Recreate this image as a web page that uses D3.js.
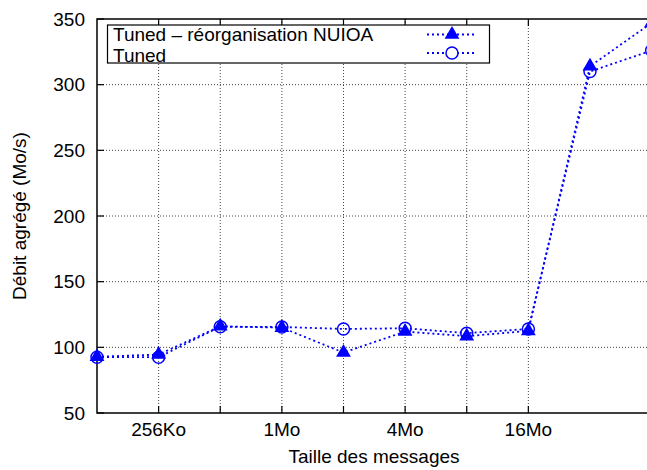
<!DOCTYPE html>
<html><head><meta charset="utf-8">
<script src="https://cdn.jsdelivr.net/npm/d3@7"></script>
<style>body{margin:0;background:#fff}svg{display:block}text{font-family:"Liberation Sans",Arial,Helvetica,sans-serif;fill:#000}</style>
</head><body>
<svg id="c" width="647" height="470"></svg>
<script>
// Data (sizes in Ko)
const sizes = [128, 256, 512, 1024, 2048, 4096, 8192, 16384, 32768, 65536];
const numaValues = [92.8, 94.5, 116, 115, 96, 112, 108.5, 112.5, 314, 347];
const tunedValues = [92.5, 92.5, 115.7, 115.5, 114, 114.5, 110.8, 114, 310, 326];
const xTickValues = [256, 1024, 4096, 16384];
const xTickLabels = ["256Ko", "1Mo", "4Mo", "16Mo"];
const xGridValues = [256, 512, 1024, 2048, 4096, 8192, 16384];
const yTickValues = [50, 100, 150, 200, 250, 300, 350];
const seriesNames = ["Tuned \u2013 réorganisation NUIOA", "Tuned"];

const svg = d3.select("#c");
const L = 97, R = 651.6, T = 19, B = 413;
const x = d3.scaleLog().base(2).domain([128, 65536]).range([L, R]);
const y = d3.scaleLinear().domain([50, 350]).range([B, T]);
const blue = "#0000ff";
const fs = 19;

// grid
const g = svg.append("g");
g.selectAll(".vg").data(xGridValues).enter().append("line")
  .attr("x1", d => x(d)).attr("x2", d => x(d)).attr("y1", T).attr("y2", B)
  .attr("stroke", "#444").attr("stroke-width", 1).attr("stroke-dasharray", "1,2");
g.selectAll(".hg").data(yTickValues.slice(1, -1)).enter().append("line")
  .attr("x1", L).attr("x2", 647).attr("y1", d => y(d)).attr("y2", d => y(d))
  .attr("stroke", "#444").attr("stroke-width", 1).attr("stroke-dasharray", "1,2");

// ticks (inward, mirrored)
const tk = 7;
g.selectAll(".bt").data(xGridValues).enter().append("line")
  .attr("x1", d => x(d)).attr("x2", d => x(d)).attr("y1", B).attr("y2", B - tk)
  .attr("stroke", "#000").attr("stroke-width", 1.2);
g.selectAll(".tt").data(xGridValues).enter().append("line")
  .attr("x1", d => x(d)).attr("x2", d => x(d)).attr("y1", T).attr("y2", T + tk)
  .attr("stroke", "#000").attr("stroke-width", 1.2);
g.selectAll(".lt").data(yTickValues).enter().append("line")
  .attr("x1", L).attr("x2", L + tk).attr("y1", d => y(d)).attr("y2", d => y(d))
  .attr("stroke", "#000").attr("stroke-width", 1.2);

// axis border
svg.append("path").attr("d", `M647,${T}H${L}V${B}H647`).attr("fill", "none")
  .attr("stroke", "#000").attr("stroke-width", 1.5);

// tick labels
svg.selectAll(".yl").data(yTickValues).enter().append("text")
  .attr("x", 85).attr("y", d => y(d)).attr("dy", "0.35em").attr("text-anchor", "end")
  .attr("font-size", fs).text(d => d);
svg.selectAll(".xl").data(xTickValues).enter().append("text")
  .attr("x", d => x(d)).attr("y", 436).attr("text-anchor", "middle")
  .attr("font-size", fs).text((d, i) => xTickLabels[i]);

// axis titles
svg.append("text").attr("x", 374).attr("y", 463).attr("text-anchor", "middle")
  .attr("font-size", fs).text("Taille des messages");
svg.append("text").attr("transform", "translate(26,216) rotate(-90)")
  .attr("text-anchor", "middle").attr("font-size", fs).text("Débit agrégé (Mo/s)");

// series
const line = d3.line().x(d => x(d[0])).y(d => y(d[1]));
const numa = sizes.map((s, i) => [s, numaValues[i]]);
const tuned = sizes.map((s, i) => [s, tunedValues[i]]);
const tri = d3.symbol().type(d3.symbolTriangle).size(95);

function drawSeries(data, kind) {
  svg.append("path").datum(data).attr("d", line).attr("fill", "none")
    .attr("stroke", blue).attr("stroke-width", 1.8).attr("stroke-dasharray", "2,3");
  if (kind === "tri") {
    svg.selectAll(null).data(data).enter().append("path")
      .attr("d", tri).attr("transform", d => `translate(${x(d[0])},${y(d[1])})`)
      .attr("fill", blue);
  } else {
    svg.selectAll(null).data(data).enter().append("circle")
      .attr("cx", d => x(d[0])).attr("cy", d => y(d[1])).attr("r", 6)
      .attr("fill", "none").attr("stroke", blue).attr("stroke-width", 1.5);
  }
}
drawSeries(tuned, "circ");
drawSeries(numa, "tri");

// legend
const lg = svg.append("g");
lg.append("rect").attr("x", 107.5).attr("y", 25).attr("width", 382).attr("height", 38)
  .attr("fill", "#fff").attr("stroke", "#000").attr("stroke-width", 1.2);
const rows = [34.5, 53];
const baselines = [40.5, 61.5];
seriesNames.forEach((name, i) => {
  lg.append("text").attr("x", 113).attr("y", baselines[i])
    .attr("font-size", fs).text(name);
  lg.append("line").attr("x1", 427).attr("x2", 476).attr("y1", rows[i]).attr("y2", rows[i])
    .attr("stroke", blue).attr("stroke-width", 1.8).attr("stroke-dasharray", "2,3");
  if (i === 0) {
    lg.append("path").attr("d", tri).attr("transform", `translate(452,${rows[i]})`).attr("fill", blue);
  } else {
    lg.append("circle").attr("cx", 452).attr("cy", rows[i]).attr("r", 6)
      .attr("fill", "#fff").attr("stroke", blue).attr("stroke-width", 1.5);
  }
});
</script>
</body></html>
